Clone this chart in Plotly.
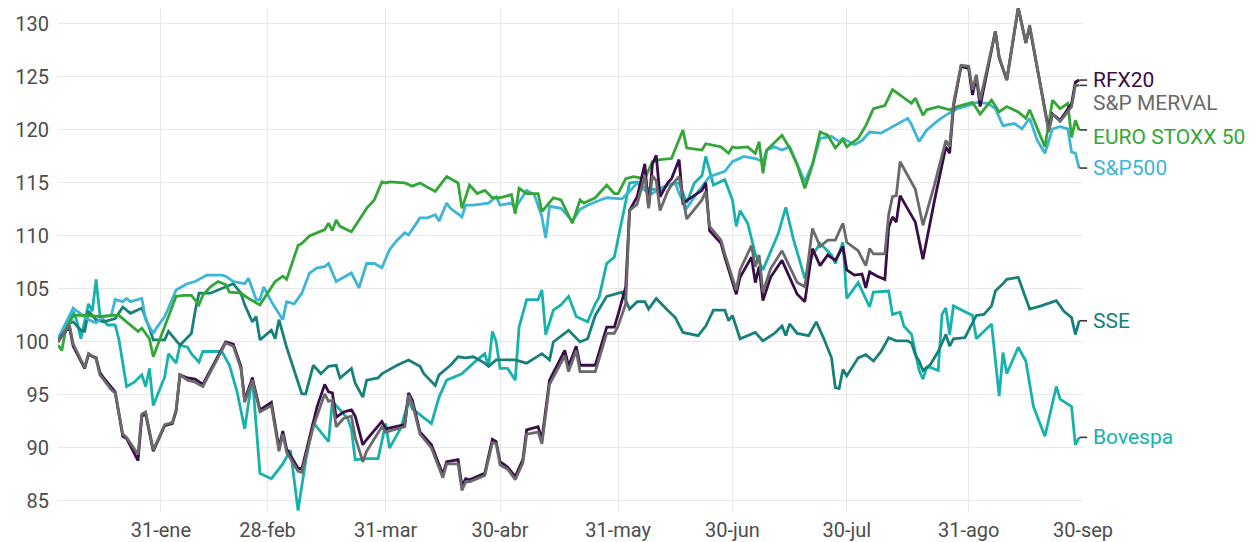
import pandas as pd
import plotly.graph_objects as go

YEAR_START = "2023-01-01"  # day numbers below are day-of-year in 2023

# (day-of-year, index value)
rfx20 = [(4,100.0),(5,100.6),(7,101.4),(8,99.6),(11,97.5),(12,98.8),(14,98.5),(15,97.1),(16,96.6),(18,95.7),(19,95.3),(21,91.1),(22,90.9),(25,88.8),(26,93.0),(27,93.2),(29,89.7),(32,92.1),(34,92.3),(35,93.5),(36,96.9),(38,96.6),(40,96.5),(42,96.0),(48,100.0),(50,99.8),(52,97.7),(53,94.5),(55,96.6),(57,93.6),(60,94.3),(62,90.0),(63,91.6),(64,89.9),(67,88.1),(68,88.0),(71,92.5),(72,93.9),(74,96.0),(75,95.3),(76,95.2),(77,92.9),(79,93.4),(81,93.6),(82,93.0),(84,90.3),(85,90.8),(89,92.5),(90,91.8),(95,92.2),(96,95.2),(97,94.5),(99,91.5),(102,90.3),(105,87.5),(106,88.7),(109,88.9),(110,86.4),(111,87.1),(112,87.0),(116,87.6),(118,90.8),(119,90.6),(120,88.7),(122,88.2),(124,87.3),(126,88.9),(127,91.7),(130,92.0),(131,90.8),(133,96.4),(137,99.2),(138,97.7),(140,99.6),(141,97.8),(145,97.8),(148,101.4),(150,101.4),(151,102.6),(153,105.2),(154,112.4),(156,113.7),(158,116.8),(159,112.7),(160,116.8),(161,117.6),(162,113.7),(164,115.0),(165,115.4),(167,117.2),(168,113.1),(173,114.3),(174,115.0),(175,110.5),(178,109.3),(179,108.0),(182,104.5),(183,106.1),(186,108.0),(187,105.6),(188,107.1),(189,103.9),(191,106.1),(194,107.7),(198,104.5),(200,103.8),(202,108.8),(204,107.2),(206,108.2),(208,107.7),(210,109.0),(211,106.8),(213,106.3),(215,106.4),(216,105.1),(217,106.6),(219,106.2),(221,105.9),(222,110.8),(223,111.8),(224,111.3),(225,113.8),(229,111.3),(231,107.8),(234,113.3),(237,118.4),(238,117.8),(239,122.2),(241,126.0),(243,125.8),(244,123.3),(245,125.0),(246,122.2),(250,129.3),(251,126.8),(253,124.7),(256,131.5),(258,128.2),(259,129.7),(264,120.0),(265,121.5),(267,120.9),(270,122.5),(271,124.5),(272,124.7)]

merval = [(4,100.0),(5,100.5),(7,101.6),(8,99.8),(11,97.6),(12,98.9),(14,98.4),(15,96.9),(16,96.4),(18,95.5),(19,95.2),(21,91.3),(22,91.0),(25,89.4),(26,93.2),(27,93.4),(29,89.8),(32,92.2),(34,92.4),(35,93.6),(36,96.9),(38,96.4),(40,96.2),(42,95.8),(48,99.9),(50,99.6),(52,97.5),(53,94.3),(55,96.4),(57,93.4),(60,94.0),(62,89.7),(63,91.3),(64,89.6),(67,87.8),(68,87.7),(71,92.0),(74,95.1),(75,94.4),(76,94.5),(77,92.0),(79,92.8),(81,93.0),(82,91.0),(84,88.7),(85,89.7),(89,92.0),(90,91.5),(95,92.0),(96,95.0),(97,94.2),(99,91.3),(102,90.0),(105,87.2),(106,88.5),(109,88.5),(110,86.0),(111,86.8),(112,86.8),(116,87.4),(118,90.5),(119,90.4),(120,88.4),(122,88.0),(124,87.0),(126,88.6),(127,91.3),(130,91.5),(131,90.4),(133,96.0),(137,98.7),(138,97.2),(140,99.2),(141,97.2),(145,97.2),(148,100.8),(150,100.8),(151,101.5),(153,103.6),(154,112.4),(156,113.0),(158,115.7),(159,112.6),(160,115.7),(161,115.2),(162,112.4),(164,114.2),(165,114.8),(167,115.6),(169,111.6),(173,113.4),(174,114.2),(175,110.9),(178,109.6),(179,108.3),(182,104.9),(183,106.8),(186,109.1),(187,107.1),(188,108.2),(189,104.7),(191,106.9),(194,108.6),(198,105.6),(200,105.2),(202,110.7),(204,109.0),(206,109.6),(208,109.6),(210,111.2),(211,109.4),(214,108.6),(216,107.2),(217,108.8),(218,108.3),(221,108.3),(222,112.0),(223,113.7),(224,113.8),(225,117.0),(229,114.4),(231,111.0),(234,114.8),(237,119.0),(238,118.4),(239,122.5),(241,126.1),(243,126.0),(244,123.8),(245,125.2),(246,122.8),(250,129.3),(251,126.9),(253,124.7),(256,131.6),(258,128.2),(259,129.9),(264,119.8),(265,121.5),(267,120.8),(270,122.2),(271,124.2),(272,124.2)]

eurostoxx = [(4,99.7),(5,99.2),(6,101.1),(8,102.5),(11,102.5),(15,102.4),(18,102.5),(20,102.5),(22,101.9),(25,101.0),(26,101.3),(28,100.3),(29,98.6),(33,102.5),(35,104.3),(37,104.4),(39,104.4),(41,103.5),(42,104.4),(44,105.2),(46,105.7),(48,105.4),(49,104.7),(52,104.6),(54,104.1),(57,103.5),(59,104.6),(61,105.7),(63,106.2),(64,105.9),(67,109.1),(68,109.3),(70,110.0),(72,110.3),(74,110.6),(75,111.2),(76,110.5),(77,111.5),(78,110.9),(81,110.4),(85,112.6),(87,113.4),(89,115.1),(90,115.0),(91,115.1),(95,115.0),(97,114.7),(99,115.0),(103,114.2),(106,115.6),(109,115.0),(110,112.6),(112,114.8),(114,114.0),(116,114.3),(118,113.6),(120,113.6),(123,113.9),(124,112.1),(125,114.5),(127,114.0),(130,114.0),(131,112.3),(134,113.6),(136,113.4),(139,111.2),(141,113.4),(142,113.1),(145,113.6),(148,114.8),(150,114.0),(151,114.0),(153,115.4),(155,115.6),(158,115.4),(160,117.0),(162,117.2),(165,117.3),(168,120.0),(169,118.3),(173,118.1),(174,118.7),(178,118.4),(180,117.8),(181,118.4),(182,118.3),(185,118.4),(187,117.8),(188,118.9),(189,115.9),(190,118.1),(194,119.5),(196,118.3),(198,116.7),(200,114.5),(202,116.7),(204,119.8),(206,119.5),(208,118.3),(210,119.1),(211,118.4),(214,119.2),(216,120.4),(218,122.0),(221,122.3),(223,123.8),(225,123.3),(228,122.5),(229,123.0),(231,121.4),(232,121.9),(235,122.2),(238,121.9),(240,122.2),(244,122.6),(246,121.5),(249,122.8),(251,121.7),(253,122.2),(256,121.7),(258,121.1),(259,121.9),(263,118.4),(265,122.8),(267,122.0),(269,122.5),(270,119.3),(271,120.9),(272,120.0)]

sp500 = [(4,100.3),(5,101.0),(8,103.2),(9,102.9),(11,102.4),(12,102.1),(14,101.8),(16,102.4),(18,102.5),(19,104.0),(21,103.8),(22,104.1),(23,103.8),(26,104.1),(27,102.1),(29,100.8),(30,101.4),(32,102.4),(33,103.2),(35,104.9),(38,105.5),(40,105.7),(41,105.9),(43,106.3),(47,106.3),(48,106.2),(50,105.7),(53,105.5),(54,106.0),(56,104.0),(57,104.0),(58,105.2),(60,103.8),(63,102.1),(64,103.8),(66,103.6),(68,104.6),(70,106.5),(72,107.0),(74,107.1),(75,107.4),(77,105.7),(81,106.5),(83,105.1),(85,107.4),(87,107.4),(89,107.0),(91,108.7),(93,109.6),(95,110.3),(96,110.1),(99,111.7),(101,111.7),(103,112.0),(104,111.4),(106,113.1),(107,112.6),(110,111.8),(111,112.9),(113,112.9),(117,113.1),(119,113.7),(120,112.9),(123,113.1),(124,112.6),(127,114.3),(129,113.9),(131,111.8),(132,109.8),(133,112.8),(136,112.6),(139,111.4),(141,112.5),(143,112.9),(145,113.2),(148,113.6),(152,113.5),(154,114.2),(156,115.0),(158,114.3),(160,114.0),(162,114.5),(164,114.8),(166,115.0),(167,114.0),(169,112.6),(172,114.2),(175,115.6),(179,116.1),(181,117.0),(184,117.5),(187,117.3),(189,117.0),(190,118.1),(192,118.4),(194,118.1),(196,118.4),(198,116.7),(200,115.1),(202,116.8),(204,119.2),(207,119.4),(209,118.9),(210,119.2),(213,118.6),(215,119.0),(217,119.8),(220,119.7),(223,120.3),(227,121.1),(228,120.5),(230,118.9),(232,120.0),(235,120.9),(237,121.4),(240,122.0),(243,122.3),(245,122.6),(248,122.5),(250,122.0),(252,120.4),(255,120.6),(257,120.1),(259,121.1),(261,119.0),(263,117.8),(265,120.1),(267,120.3),(269,120.1),(270,117.9),(271,117.8),(272,116.4)]

sse = [(4,100.3),(6,101.6),(8,101.9),(10,101.1),(11,101.0),(12,102.9),(14,102.1),(16,101.9),(19,102.2),(21,103.3),(23,102.7),(26,103.2),(28,101.3),(29,100.2),(32,100.2),(33,101.0),(36,99.7),(39,100.8),(40,102.9),(41,104.6),(44,104.6),(50,105.5),(52,104.6),(53,103.5),(55,101.9),(56,102.4),(57,100.2),(60,101.1),(61,100.3),(62,102.1),(64,99.5),(66,97.3),(68,95.1),(69,95.1),(71,97.8),(73,97.0),(75,97.7),(77,97.8),(78,96.6),(81,97.5),(82,96.1),(84,94.8),(85,96.4),(88,96.6),(89,97.0),(90,97.2),(93,97.8),(96,98.3),(99,97.7),(100,97.0),(103,95.9),(104,96.9),(107,97.8),(109,98.6),(111,98.5),(113,98.6),(116,98.0),(117,97.7),(119,98.3),(124,98.3),(127,98.0),(131,98.9),(133,98.3),(134,100.0),(138,101.1),(141,100.0),(143,100.3),(145,102.5),(148,104.3),(152,104.7),(154,103.1),(156,103.8),(158,103.8),(159,103.1),(161,104.1),(164,103.0),(166,102.3),(168,100.9),(172,100.6),(174,101.5),(176,103.0),(179,103.0),(180,102.0),(181,102.5),(183,100.3),(187,100.9),(189,100.1),(192,100.8),(194,101.5),(195,100.6),(196,101.7),(198,100.8),(201,100.6),(203,101.9),(205,100.3),(207,98.5),(208,95.7),(209,95.6),(210,97.4),(211,96.8),(214,98.5),(216,98.8),(218,98.2),(220,99.1),(222,100.4),(224,100.1),(227,100.1),(228,99.9),(229,98.8),(230,98.2),(231,97.3),(233,97.9),(235,99.1),(237,100.7),(238,99.6),(239,100.3),(242,100.4),(245,102.5),(247,102.6),(249,103.4),(250,104.8),(252,105.5),(253,105.9),(256,106.1),(257,105.1),(259,103.1),(262,103.4),(266,103.9),(268,102.9),(270,102.3),(271,100.7),(272,102.0)]

bovespa = [(4,100.2),(6,101.1),(8,102.9),(9,101.9),(10,100.3),(12,103.6),(13,102.9),(14,105.9),(15,102.5),(17,101.6),(19,101.6),(20,100.2),(22,95.8),(24,96.2),(26,96.9),(27,95.8),(28,97.5),(29,94.0),(32,96.7),(33,98.9),(35,98.0),(36,99.7),(38,99.5),(39,98.9),(41,98.1),(42,99.1),(47,99.1),(49,97.8),(51,95.3),(53,91.8),(55,96.7),(57,87.6),(60,87.1),(63,88.5),(65,89.8),(67,84.1),(69,88.8),(71,92.4),(73,91.5),(74,91.0),(75,90.6),(76,94.4),(78,93.6),(80,92.8),(81,91.8),(82,88.9),(85,89.0),(88,89.0),(90,92.3),(91,90.0),(94,91.9),(96,94.5),(97,93.7),(102,92.3),(104,94.8),(106,96.4),(110,97.0),(113,98.0),(116,98.9),(117,97.7),(118,101.0),(119,100.0),(120,97.5),(122,97.5),(124,96.4),(125,101.4),(127,104.0),(130,104.0),(131,104.9),(132,100.7),(134,103.0),(136,103.5),(138,104.3),(140,102.4),(143,101.9),(145,103.6),(146,104.2),(148,107.4),(150,108.0),(153,113.4),(154,115.0),(156,115.1),(158,114.5),(162,114.3),(164,114.8),(167,115.0),(169,113.1),(171,115.0),(173,115.7),(174,117.5),(176,114.8),(179,115.3),(181,113.4),(182,110.9),(183,112.4),(185,111.2),(187,108.3),(189,106.8),(191,108.5),(193,110.2),(195,112.7),(197,109.7),(200,106.0),(202,108.2),(204,109.3),(207,108.2),(208,107.4),(210,109.4),(211,104.1),(214,105.6),(217,103.3),(218,104.7),(222,104.8),(223,102.6),(225,102.8),(226,101.5),(228,100.7),(229,99.1),(230,97.3),(231,96.5),(232,97.6),(233,97.6),(235,97.3),(236,102.6),(237,103.2),(238,100.7),(239,103.4),(244,102.5),(245,100.3),(249,101.7),(251,94.9),(252,99.0),(253,97.0),(256,99.5),(258,98.2),(260,93.9),(263,91.1),(266,95.8),(267,94.6),(270,93.9),(271,90.3),(272,91.0)]

series_names = ["Bovespa", "SSE", "S&P500", "EURO STOXX 50", "RFX20", "S&P MERVAL"]
series_data = [bovespa, sse, sp500, eurostoxx, rfx20, merval]
series_colors = ["#17b2ad", "#17807a", "#3db5d6", "#33a637", "#3a0c48", "#6a6a6a"]
label_yshift = [0, 0, 0, -7, 0, -18]

tick_dates = ["2023-01-31", "2023-02-28", "2023-03-31", "2023-04-30", "2023-05-31",
              "2023-06-30", "2023-07-30", "2023-08-31", "2023-09-30"]
tick_text = ["31-ene", "28-feb", "31-mar", "30-abr", "31-may", "30-jun", "30-jul", "31-ago", "30-sep"]
y_ticks = [85, 90, 95, 100, 105, 110, 115, 120, 125, 130]

base = pd.Timestamp(YEAR_START)

def to_dates(days):
    return [base + pd.Timedelta(days=d - 1) for d in days]

fig = go.Figure()
annotations = []
shapes = []
for name, data, color, ysh in zip(series_names, series_data, series_colors, label_yshift):
    days = [d for d, _ in data]
    vals = [v for _, v in data]
    fig.add_trace(go.Scatter(x=to_dates(days), y=vals, mode="lines", name=name,
                             line=dict(color=color, width=2.8), cliponaxis=False,
                             showlegend=False))
    last = vals[-1]
    shapes.append(dict(type="line", xref="paper", yref="y", x0=0.9965, x1=1.004,
                       y0=last, y1=last, line=dict(color="#3a3a3a", width=1.6)))
    annotations.append(dict(xref="paper", yref="y", x=1.0075, y=last, text=name,
                            showarrow=False, xanchor="left", yanchor="middle",
                            yshift=ysh, font=dict(family="Roboto", size=21, color=color)))

# page body adds an 8px offset, so the figure is sized to the remaining window area
fig.update_layout(
    width=1248, height=534,
    margin=dict(l=50, r=173, t=0, b=30),
    paper_bgcolor="white", plot_bgcolor="white",
    font=dict(family="Roboto", size=20, color="#4d4d4d"),
    shapes=shapes, annotations=annotations,
    xaxis=dict(type="date", range=["2023-01-04", "2023-09-30"],
               tickvals=tick_dates, ticktext=tick_text,
               showgrid=True, gridcolor="#e8e8e8", gridwidth=1,
               zeroline=False, showline=False, ticks="", ticklabelstandoff=4,
               tickfont=dict(family="Roboto", size=20, color="#4d4d4d")),
    yaxis=dict(range=[83.96, 131.5], tickvals=y_ticks,
               showgrid=True, gridcolor="#e8e8e8", gridwidth=1,
               zeroline=False, showline=False, ticks="", ticklabelstandoff=8,
               tickfont=dict(family="Roboto", size=20, color="#4d4d4d")),
)

fig.write_html("out.html")
